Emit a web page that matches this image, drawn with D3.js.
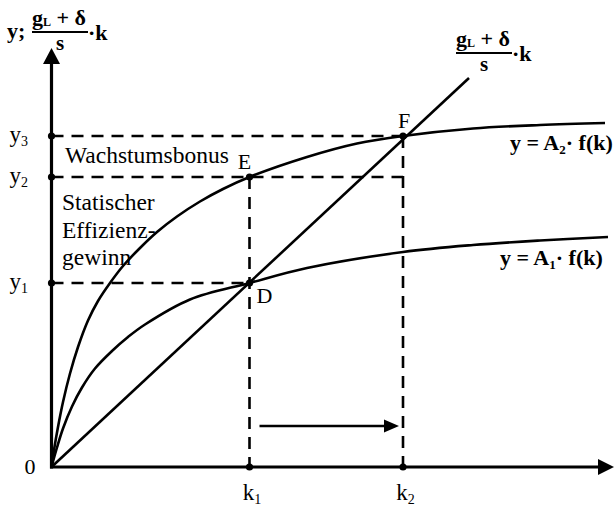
<!DOCTYPE html>
<html>
<head>
<meta charset="utf-8">
<script src="https://cdn.jsdelivr.net/npm/d3@7"></script>
<style>
  html, body { margin: 0; padding: 0; background: #fff; }
  svg { display: block; }
  text { font-family: "Liberation Serif", "Times New Roman", serif; fill: #000; }
</style>
</head>
<body>
<svg id="chart" width="614" height="509"></svg>
<script>
// Production functions y = A·f(k) for two technology levels (capital per worker k)
const kValuesA2 = [0, 0.05, 0.13, 0.23, 0.37, 0.53, 0.73, 0.93, 1.17, 1.43, 1.77, 2.11, 2.51, 2.97, 3.43, 3.96, 5.11, 6.11, 7.03, 8.43, 9.77, 11.07];
const outputA2  = [0, 0.34, 0.80, 1.30, 1.87, 2.40, 2.93, 3.32, 3.68, 4.02, 4.38, 4.70, 5.01, 5.31, 5.56, 5.80, 6.20, 6.47, 6.62, 6.77, 6.84, 6.88];
const kValuesA1 = [0, 0.11, 0.23, 0.41, 0.61, 0.87, 1.21, 1.53, 1.87, 2.77, 3.96, 5.11, 7.03, 8.43, 9.77, 11.13];
const outputA1  = [0, 0.39, 0.77, 1.21, 1.59, 1.97, 2.32, 2.60, 2.85, 3.35, 3.68, 3.98, 4.30, 4.44, 4.53, 4.60];

// Break-even line (g_L + δ)/s · k
const rayK = [0, 8.35];
const rayY = [0, 7.78];

// Marked steady states and axis ticks
const kTicks    = [3.96, 7.03];
const kTickSubs = ["1", "2"];
const yTicks    = [3.68, 5.80, 6.62];
const yTickSubs = ["1", "2", "3"];

// Named points: D (k1, y1), E (k1, y2), F (k2, y3)
const pointNames = ["D", "E", "F"];
const pointK     = [3.96, 3.96, 7.03];
const pointY     = [3.68, 5.80, 6.62];

const svg = d3.select("#chart");
const x = d3.scaleLinear().domain([0, 11.25]).range([51.5, 614]);
const y = d3.scaleLinear().domain([0, 8.38]).range([467, 48]);

const curve = d3.line().x(d => x(d[0])).y(d => y(d[1])).curve(d3.curveCatmullRom.alpha(0.5));

// dashed guide lines
const dash = "12,8";
const guides = [
  [[0, yTicks[2]], [kTicks[1], yTicks[2]]],
  [[0, yTicks[1]], [kTicks[1], yTicks[1]]],
  [[0, yTicks[0]], [kTicks[0], yTicks[0]]],
  [[kTicks[0], yTicks[1]], [kTicks[0], 0]],
  [[kTicks[1], yTicks[2]], [kTicks[1], 0]]
];
svg.append("g").selectAll("line").data(guides).join("line")
  .attr("x1", d => x(d[0][0])).attr("y1", d => y(d[0][1]))
  .attr("x2", d => x(d[1][0])).attr("y2", d => y(d[1][1]))
  .attr("stroke", "#000").attr("stroke-width", 2.6).attr("stroke-dasharray", dash);

// production function curves
const a2 = kValuesA2.map((k, i) => [k, outputA2[i]]);
const a1 = kValuesA1.map((k, i) => [k, outputA1[i]]);
svg.append("path").attr("d", curve(a2)).attr("fill", "none").attr("stroke", "#000").attr("stroke-width", 2.6);
svg.append("path").attr("d", curve(a1)).attr("fill", "none").attr("stroke", "#000").attr("stroke-width", 2.6);

// ray
svg.append("line")
  .attr("x1", x(rayK[0])).attr("y1", y(rayY[0]))
  .attr("x2", x(rayK[1])).attr("y2", y(rayY[1]))
  .attr("stroke", "#000").attr("stroke-width", 2.6);

// axes (library axes with hidden ticks; domain lines drawn thick)
const xAxis = d3.axisBottom(x).tickValues(kTicks).tickSize(0).tickSizeOuter(0).tickFormat("");
const yAxis = d3.axisLeft(y).tickValues(yTicks).tickSize(0).tickSizeOuter(0).tickFormat("");
const gx = svg.append("g").attr("transform", `translate(0,${y(0)})`).call(xAxis);
const gy = svg.append("g").attr("transform", `translate(${x(0)},0)`).call(yAxis);
const xr = x.range()[1], yt = y.range()[1];
gx.select(".domain").attr("stroke", "#000").attr("stroke-width", 3.2)
  .attr("d", `M${x(0) - 1.5},0H${xr - 14}`);
gy.select(".domain").attr("stroke", "#000").attr("stroke-width", 3.2)
  .attr("d", `M0,${y(0) + 1.5}V${yt + 14}`);

// arrowheads on axes
svg.append("path").attr("d", `M${xr},${y(0)} L${xr - 16},${y(0) - 8} L${xr - 16},${y(0) + 8} Z`).attr("fill", "#000");
svg.append("path").attr("d", `M${x(0)},${yt} L${x(0) - 8.5},${yt + 16} L${x(0) + 8.5},${yt + 16} Z`).attr("fill", "#000");

// dots on axes and at the marked points
const dots = [
  ...kTicks.map(k => [k, 0]),
  ...yTicks.map(v => [0, v]),
  ...pointK.map((k, i) => [k, pointY[i]])
];
svg.append("g").selectAll("circle").data(dots).join("circle")
  .attr("cx", d => x(d[0])).attr("cy", d => y(d[1])).attr("r", 3.6).attr("fill", "#000");

// tick labels with subscripts
gx.selectAll(".tick").each(function(d, i) {
  const t = d3.select(this).append("text")
    .attr("x", 2).attr("y", 33).attr("text-anchor", "middle")
    .style("font-size", "23px");
  t.append("tspan").text("k");
  t.append("tspan").attr("dy", 4).style("font-size", "14px").text(kTickSubs[i]);
});
gy.selectAll(".tick").each(function(d, i) {
  const t = d3.select(this).append("text")
    .attr("x", -42).attr("y", 5).attr("text-anchor", "start")
    .style("font-size", "23px");
  t.append("tspan").text("y");
  t.append("tspan").attr("dy", 4).style("font-size", "14px").text(yTickSubs[i]);
});
svg.append("text").attr("x", 30).attr("y", y(0) + 7).attr("text-anchor", "middle")
  .style("font-size", "22px").text("0");

// point names
const nameOffsets = { D: [15, 20], E: [-5, -8], F: [1, -8] };
pointNames.forEach((n, i) => {
  svg.append("text")
    .attr("x", x(pointK[i]) + nameOffsets[n][0])
    .attr("y", y(pointY[i]) + nameOffsets[n][1])
    .attr("text-anchor", "middle").style("font-size", "22px").text(n);
});

// region annotations
svg.append("text").attr("x", 65).attr("y", 163).style("font-size", "23.5px").text("Wachstumsbonus");
["Statischer", "Effizienz-", "gewinn"].forEach((s, i) => {
  svg.append("text").attr("x", 62).attr("y", 210 + i * 27.5).style("font-size", "23.5px").text(s);
});

// curve labels
function curveLabel(px, py, sub) {
  const t = svg.append("text").attr("x", px).attr("y", py)
    .style("font-size", "22px").style("font-weight", "bold");
  t.append("tspan").text("y = A");
  t.append("tspan").attr("dy", 4).style("font-size", "13px").text(sub);
  t.append("tspan").attr("dy", -4).text("· f(k)");
}
curveLabel(510, 150, "2");
curveLabel(500, 265, "1");

// fraction label (g_L + δ)/s · k
function fractionLabel(px, py, withY) {
  const g = svg.append("g").attr("transform", `translate(${px},${py})`);
  let off = 0;
  if (withY) {
    g.append("text").attr("x", 0).attr("y", 6).style("font-size", "22px").style("font-weight", "bold").text("y;");
    off = 25;
  }
  const num = g.append("text").attr("x", off).attr("y", -7)
    .style("font-size", "22px").style("font-weight", "bold");
  num.append("tspan").text("g");
  num.append("tspan").attr("dy", 1).style("font-size", "12px").text("L");
  num.append("tspan").attr("dy", -1).style("font-size", "22px").text(" + δ");
  const w = 56;
  g.append("line").attr("x1", off).attr("x2", off + w).attr("y1", 0).attr("y2", 0)
    .attr("stroke", "#000").attr("stroke-width", 2);
  g.append("text").attr("x", off + w / 2).attr("y", 17.5).attr("text-anchor", "middle")
    .style("font-size", "21px").style("font-weight", "bold").text("s");
  g.append("text").attr("x", off + w).attr("y", 8)
    .style("font-size", "22px").style("font-weight", "bold").text("·k");
}
fractionLabel(7, 32, true);
fractionLabel(456, 53, false);

// arrow indicating the shift from k1 to k2
const arrowY = y(0) - 41;
svg.append("line").attr("x1", x(kTicks[0]) + 10).attr("x2", x(kTicks[1]) - 18)
  .attr("y1", arrowY).attr("y2", arrowY).attr("stroke", "#000").attr("stroke-width", 2.6);
const ax = x(kTicks[1]) - 4;
svg.append("path").attr("d", `M${ax},${arrowY} L${ax - 15},${arrowY - 6.5} L${ax - 15},${arrowY + 6.5} Z`).attr("fill", "#000");
</script>
</body>
</html>
